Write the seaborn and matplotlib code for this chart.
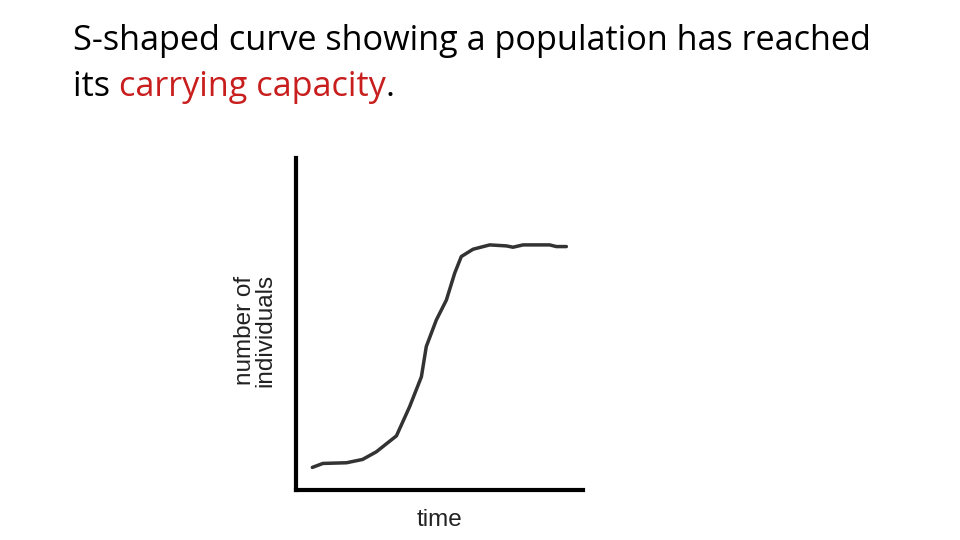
import matplotlib
matplotlib.use("Agg")
import matplotlib.pyplot as plt
import seaborn as sns
import pandas as pd

# values (time and population, arbitrary 0-100 units)
time = [5.8, 9.5, 17.7, 23.3, 28.1, 35.1, 39.7, 43.8, 45.5, 49.0, 52.5,
        55.4, 57.7, 61.8, 67.6, 73.4, 75.7, 79.2, 88.5, 90.8, 94.3]
individuals = [6.8, 8.0, 8.2, 9.2, 11.5, 16.3, 25.1, 34.1, 43.2, 51.2, 57.2,
               65.3, 70.3, 72.5, 73.8, 73.5, 73.1, 73.8, 73.8, 73.3, 73.3]

title_1 = "S-shaped curve showing a population has reached"
title_2 = ["its ", "carrying capacity", "."]
title_2_colors = ["black", "#c81e1e", "black"]

sns.set_style("white")
plt.rcParams['font.family'] = ['Liberation Sans', 'DejaVu Sans']

df = pd.DataFrame({'time': time, 'individuals': individuals})

fig = plt.figure(figsize=(9.6, 5.4), dpi=100)
ax = fig.add_axes([0.308, 0.0926, 0.299, 0.615])
sns.lineplot(x='time', y='individuals', data=df, ax=ax, color='#333333',
             linewidth=2.5)
ax.set_xlim(0, 100)
ax.set_ylim(0, 100)
ax.set_xticks([])
ax.set_yticks([])
sns.despine(ax=ax)
for side in ['left', 'bottom']:
    ax.spines[side].set_linewidth(3)
    ax.spines[side].set_color('black')
ax.set_xlabel("time", fontsize=17.5, labelpad=14, color='#222222')
ax.set_ylabel("number of\nindividuals", fontsize=17.5, color='#222222',
              linespacing=0.95)
ax.yaxis.set_label_coords(-0.066, 0.479)

# slide heading
title_font = dict(family=['Open Sans', 'DejaVu Sans'], fontsize=24.7)
fig.text(73 / 960, 1 - 50 / 540, title_1, ha='left', va='baseline',
         color='black', **title_font)

fig.canvas.draw()
renderer = fig.canvas.get_renderer()
x = 73
for part, col in zip(title_2, title_2_colors):
    t = fig.text(x / 960, 1 - 96 / 540, part, ha='left', va='baseline',
                 color=col, **title_font)
    fig.canvas.draw()
    x = x + t.get_window_extent(renderer).width

fig.savefig('out.png', dpi=100)
